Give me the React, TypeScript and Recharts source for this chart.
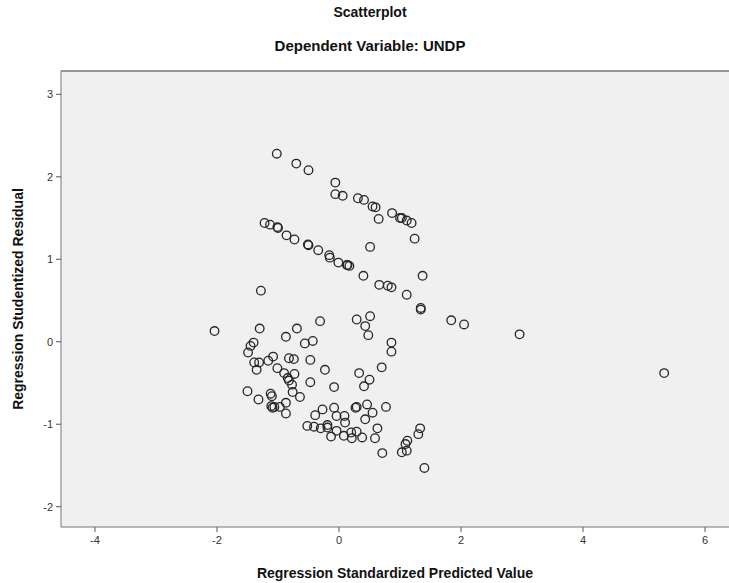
import React from 'react';
import {
  ScatterChart, Scatter, XAxis, YAxis, CartesianGrid, ReferenceLine,
} from 'recharts';

// [standardized predicted value, studentized residual]
const upperBand: Array<[number, number]> = [
  [-1.02, 2.28], [-0.70, 2.16], [-0.50, 2.08], [-0.06, 1.93], [-0.06, 1.79], [0.06, 1.77],
  [0.31, 1.74], [0.41, 1.72], [0.55, 1.64], [0.60, 1.63], [0.65, 1.49], [0.87, 1.56],
  [1.00, 1.50], [1.03, 1.50], [1.11, 1.47], [1.19, 1.44], [1.24, 1.25],
];

const secondBand: Array<[number, number]> = [
  [-1.22, 1.44], [-1.13, 1.42], [-1.01, 1.39], [-1.00, 1.38], [-0.86, 1.29], [-0.73, 1.24],
  [-0.51, 1.18], [-0.50, 1.17], [-0.34, 1.11], [-0.16, 1.05], [-0.15, 1.02], [-0.01, 0.96],
  [0.13, 0.93], [0.14, 0.93], [0.17, 0.92], [0.40, 0.80], [0.51, 1.15], [0.66, 0.69],
  [0.80, 0.68], [0.86, 0.66], [1.11, 0.57], [1.37, 0.80], [1.34, 0.41], [1.34, 0.39],
  [1.84, 0.26], [2.05, 0.21], [2.96, 0.09], [5.33, -0.38],
];

const leftSingles: Array<[number, number]> = [
  [-1.28, 0.62], [-2.04, 0.13],
];

const middleCluster: Array<[number, number]> = [
  [-1.30, 0.16], [-0.69, 0.16], [-0.31, 0.25], [0.29, 0.27], [0.51, 0.31], [0.43, 0.19],
  [0.48, 0.08], [0.86, -0.01], [0.86, -0.12], [-0.87, 0.06], [-1.40, -0.01], [-1.45, -0.05],
  [-1.49, -0.13], [-0.56, -0.02], [-0.43, 0.01], [-1.08, -0.18], [-1.16, -0.23], [-1.39, -0.25],
  [-1.31, -0.25], [-1.35, -0.34], [-0.82, -0.20], [-0.74, -0.21], [-0.47, -0.22], [-1.01, -0.32],
  [-0.90, -0.38], [-0.73, -0.39], [-0.84, -0.44], [-0.82, -0.47], [-0.23, -0.34], [-0.77, -0.52],
  [-0.47, -0.49], [-0.08, -0.55], [-1.50, -0.60], [-1.12, -0.63], [-1.10, -0.66], [-0.76, -0.61],
  [-0.64, -0.67], [-1.32, -0.70], [-0.87, -0.74], [-1.11, -0.78], [-1.09, -0.80], [-1.06, -0.79],
  [-0.97, -0.79], [-0.87, -0.87], [-0.27, -0.82], [-0.08, -0.80], [-0.39, -0.89], [0.70, -0.31],
  [0.33, -0.38], [0.50, -0.46], [0.41, -0.54],
];

const lowerCluster: Array<[number, number]> = [
  [-0.52, -1.02], [-0.41, -1.03], [-0.30, -1.05], [-0.19, -1.01], [-0.19, -1.04], [-0.04, -0.90],
  [0.09, -0.90], [-0.13, -1.15], [-0.04, -1.08], [0.10, -0.98], [0.08, -1.14], [0.27, -0.80],
  [0.29, -0.79], [0.46, -0.76], [0.55, -0.86], [0.77, -0.79], [0.43, -0.94], [0.20, -1.10],
  [0.21, -1.17], [0.29, -1.09], [0.38, -1.16], [0.63, -1.05], [0.59, -1.17], [1.33, -1.05],
  [1.30, -1.12], [1.12, -1.20], [1.09, -1.24], [1.11, -1.32], [1.03, -1.34], [0.71, -1.35],
  [1.40, -1.53],
];

const xTicks = [-4, -2, 0, 2, 4, 6];
const yTicks = [-2, -1, 0, 1, 2, 3];
const X_DOMAIN: [number, number] = [-4.557, 6.393];
const Y_DOMAIN: [number, number] = [-2.246, 3.283];

const points = [...upperBand, ...secondBand, ...leftSingles, ...middleCluster, ...lowerCluster]
  .map(([x, y]) => ({ x, y }));

const FONT = '"Liberation Sans", Arial, sans-serif';

const Ring = (props: any) => (
  <circle cx={props.cx} cy={props.cy} r={4.3} fill="none" stroke="#262626" strokeWidth={1.3} />
);

const titleStyle: React.CSSProperties = {
  position: 'absolute', left: 0, width: 740, textAlign: 'center',
  fontFamily: FONT, fontWeight: 'bold', color: '#111',
};

export default function App() {
  return (
    <div style={{ position: 'absolute', left: 0, top: 0, width: 729, height: 583, background: '#fff', overflow: 'hidden' }}>
      <div style={{ ...titleStyle, top: 4, fontSize: 14 }}>Scatterplot</div>
      <div style={{ ...titleStyle, top: 37, fontSize: 15 }}>Dependent Variable: UNDP</div>
      <ScatterChart width={729} height={583} margin={{ top: 71, right: 0, bottom: 0, left: 0 }}
        style={{ position: 'absolute', left: 0, top: 0 }}>
        <CartesianGrid fill="#f0f0f0" horizontal={false} vertical={false} />
        <XAxis
          type="number" dataKey="x" domain={X_DOMAIN} ticks={xTicks} allowDataOverflow
          height={56} tickSize={5} tickMargin={4}
          axisLine={{ stroke: '#777' }} tickLine={{ stroke: '#555' }}
          tick={{ fontSize: 11, fill: '#333', fontFamily: FONT }}
          label={{ value: 'Regression Standardized Predicted Value', position: 'insideBottom', offset: 5,
            style: { fontSize: 14, fontWeight: 'bold', fill: '#111', fontFamily: FONT } }}
        />
        <YAxis
          type="number" dataKey="y" domain={Y_DOMAIN} ticks={yTicks} allowDataOverflow
          width={61} tickSize={5} tickMargin={3}
          axisLine={{ stroke: '#777' }} tickLine={{ stroke: '#555' }}
          tick={{ fontSize: 11, fill: '#333', fontFamily: FONT }}
          label={{ value: 'Regression Studentized Residual', angle: -90, position: 'insideLeft', offset: 18,
            style: { textAnchor: 'middle', fontSize: 14, fontWeight: 'bold', fill: '#111', fontFamily: FONT } }}
        />
        <ReferenceLine y={Y_DOMAIN[1]} stroke="#777" strokeWidth={1.5} />
        <Scatter data={points} shape={Ring} isAnimationActive={false} />
      </ScatterChart>
    </div>
  );
}
